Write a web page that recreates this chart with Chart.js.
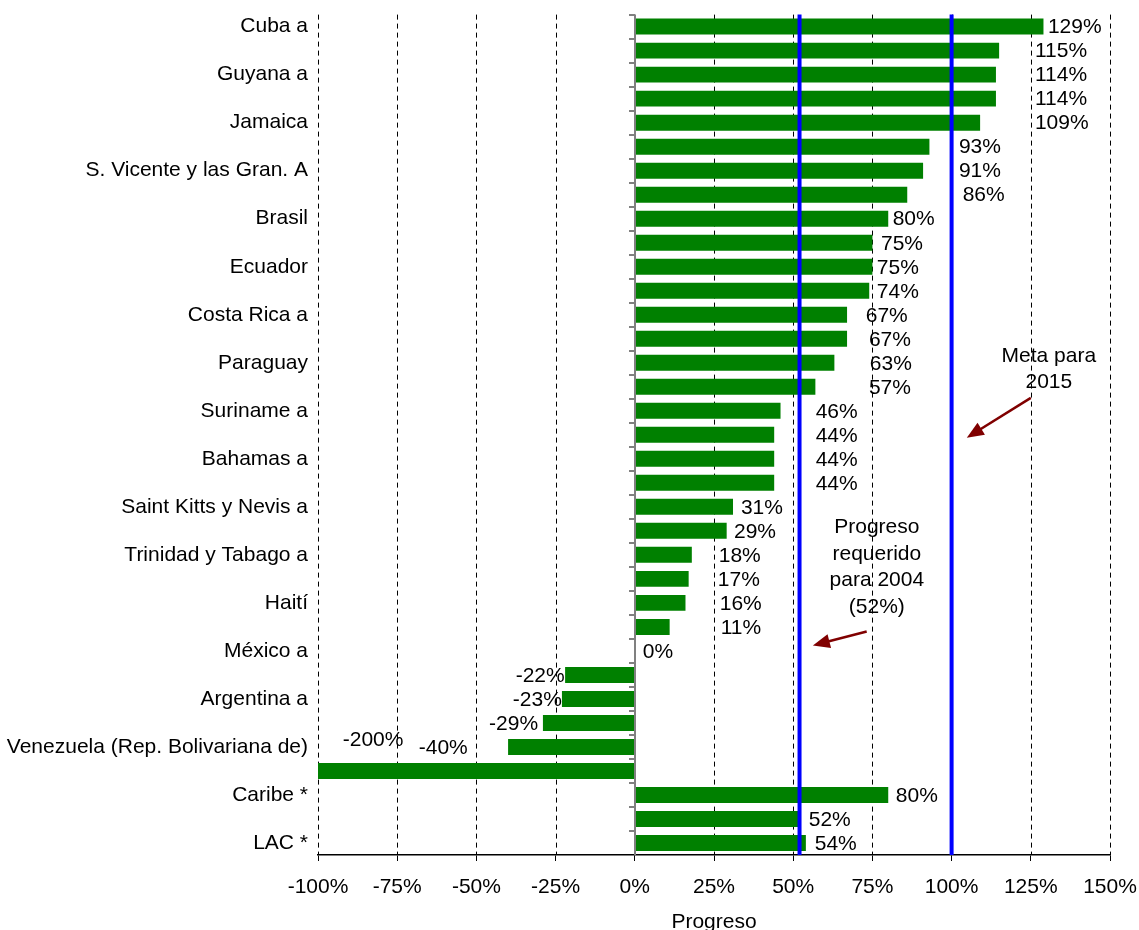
<!DOCTYPE html>
<html>
<head>
<meta charset="utf-8">
<script src="https://cdn.jsdelivr.net/npm/chart.js@4/dist/chart.umd.min.js"></script>
<style>
	body { margin: 0; background: #fff; }
	#wrap { width: 1139px; height: 930px; position: relative; }
</style>
</head>
<body>
<div id="wrap"><canvas id="chart"></canvas></div>
<script>
// categories (only every other row carries a name)
const paises = [
	'Cuba a', '', 'Guyana a', '', 'Jamaica', '', 'S. Vicente y las Gran. A', '',
	'Brasil', '', 'Ecuador', '', 'Costa Rica a', '', 'Paraguay', '',
	'Suriname a', '', 'Bahamas a', '', 'Saint Kitts y Nevis a', '', 'Trinidad y Tabago a', '',
	'Haití', '', 'México a', '', 'Argentina a', '', 'Venezuela (Rep. Bolivariana de)', '',
	'Caribe *', '', 'LAC *'
];

// progress, percent
const progreso = [
	129, 115, 114, 114, 109, 93, 91, 86,
	80, 75, 75, 74, 67, 67, 63, 57,
	46, 44, 44, 44, 31, 29, 18, 17,
	16, 11, 0, -22, -23, -29, -40, -200,
	80, 52, 54
];

// where each value label starts (percent on the x axis)
const etiquetaEn = [
	130.4, 126.3, 126.3, 126.3, 126.3, 102.3, 102.3, 103.5,
	81.4, 77.7, 76.4, 76.4, 72.9, 73.9, 74.2, 73.9,
	57.1, 57.1, 57.1, 57.1, 33.5, 31.3, 26.5, 26.2,
	26.8, 27.1, 2.5, -37.6, -38.5, -46, -68.2, -92.2,
	82.4, 54.9, 56.8
];

const ticksX = [-100, -75, -50, -25, 0, 25, 50, 75, 100, 125, 150];
const requerido2004 = 52;
const meta2015 = 100;

const FONT = 'Liberation Sans, Arial, sans-serif';
const FS = 21;

const fondo = {
	id: 'fondo',
	beforeDatasetsDraw(chart) {
		const ctx = chart.ctx;
		const x = chart.scales.x;
		const area = chart.chartArea;
		ctx.save();
		ctx.lineWidth = 1;
		ctx.strokeStyle = '#000';
		ctx.setLineDash([5, 4]);
		for(const v of ticksX)
		{
			if(v==0)
				continue;
			let px = Math.round(x.getPixelForValue(v)) + 0.5;
			ctx.beginPath();
			ctx.moveTo(px, area.top);
			ctx.lineTo(px, area.bottom);
			ctx.stroke();
		}
		ctx.restore();
	},
	afterDatasetsDraw(chart) {
		const ctx = chart.ctx;
		const x = chart.scales.x;
		const y = chart.scales.y;
		const area = chart.chartArea;
		ctx.save();

		// zero axis with category ticks
		let x0 = Math.round(x.getPixelForValue(0));
		ctx.strokeStyle = '#808080';
		ctx.lineWidth = 2;
		ctx.beginPath();
		ctx.moveTo(x0, area.top);
		ctx.lineTo(x0, area.bottom);
		ctx.stroke();
		for(let i = 0; i < progreso.length; i++)
		{
			let py = Math.round(y.getPixelForValue(i - 0.5));
			ctx.beginPath();
			ctx.moveTo(x0 - 6, py);
			ctx.lineTo(x0, py);
			ctx.stroke();
		}

		// blue reference lines
		ctx.strokeStyle = '#0000ff';
		ctx.lineWidth = 4;
		for(const v of [requerido2004, meta2015])
		{
			let px = x.getPixelForValue(v);
			ctx.beginPath();
			ctx.moveTo(px, area.top);
			ctx.lineTo(px, area.bottom);
			ctx.stroke();
		}

		// value labels
		ctx.fillStyle = '#000';
		ctx.font = FS + 'px ' + FONT;
		ctx.textAlign = 'left';
		ctx.textBaseline = 'middle';
		for(let i = 0; i < progreso.length; i++)
		{
			let py = y.getPixelForValue(i) + 1;
			if(progreso[i] < -100)
				py -= 32;
			ctx.fillText(progreso[i] + '%', x.getPixelForValue(etiquetaEn[i]), py);
		}

		// annotations
		ctx.textAlign = 'center';
		const texto = (lines, xv, row) => {
			let px = x.getPixelForValue(xv);
			let py = y.getPixelForValue(row);
			lines.forEach((l, k) => ctx.fillText(l, px, py + k * 26.5));
		};
		texto(['Meta para', '2015'], 130.7, 13.72);
		texto(['Progreso', 'requerido', 'para 2004', '(52%)'], 76.4, 20.86);

		const flecha = (xa, ya, xb, yb) => {
			let ax = x.getPixelForValue(xa), ay = y.getPixelForValue(ya);
			let bx = x.getPixelForValue(xb), by = y.getPixelForValue(yb);
			let ang = Math.atan2(by - ay, bx - ax);
			let len = 17, half = 7;
			ctx.strokeStyle = '#800000';
			ctx.fillStyle = '#800000';
			ctx.lineWidth = 2.5;
			ctx.beginPath();
			ctx.moveTo(ax, ay);
			ctx.lineTo(bx - Math.cos(ang) * len * 0.8, by - Math.sin(ang) * len * 0.8);
			ctx.stroke();
			ctx.beginPath();
			ctx.moveTo(bx, by);
			ctx.lineTo(bx - Math.cos(ang) * len - Math.sin(ang) * half, by - Math.sin(ang) * len + Math.cos(ang) * half);
			ctx.lineTo(bx - Math.cos(ang) * len + Math.sin(ang) * half, by - Math.sin(ang) * len - Math.cos(ang) * half);
			ctx.closePath();
			ctx.fill();
		};
		flecha(125, 15.46, 104.8, 17.12);
		flecha(73.2, 25.19, 56.2, 25.77);

		ctx.restore();
	}
};

new Chart(document.getElementById('chart'), {
	type: 'bar',
	data: {
		labels: paises,
		datasets: [{
			data: progreso,
			backgroundColor: '#008000',
			borderWidth: 0,
			barPercentage: 0.665,
			categoryPercentage: 1,
		}]
	},
	options: {
		indexAxis: 'y',
		responsive: true,
		maintainAspectRatio: false,
		animation: false,
		layout: { padding: { left: 0, right: 29, top: 5, bottom: 0 } },
		plugins: {
			legend: { display: false },
			tooltip: { enabled: false },
		},
		scales: {
			x: {
				min: -100,
				max: 150,
				afterBuildTicks: s => { s.ticks = ticksX.map(v => ({value: v})); },
				afterFit: s => { s.height = 75; s.paddingRight = 0; s.paddingLeft = 0; },
				grid: { drawOnChartArea: false, drawTicks: true, tickLength: 6, tickColor: '#000', tickWidth: 1 },
				border: { display: true, color: '#000', width: 1.5 },
				ticks: {
					color: '#000',
					font: { family: FONT, size: FS },
					padding: 14,
					maxRotation: 0,
					callback: v => v + '%',
				},
				title: {
					display: true,
					text: 'Progreso',
					color: '#000',
					font: { family: FONT, size: FS },
					padding: { top: 0, bottom: -5 },
				},
			},
			y: {
				afterFit: s => { s.width = 318; },
				grid: { display: false },
				border: { display: false },
				ticks: {
					color: '#000',
					font: { family: FONT, size: FS },
					padding: 2,
					autoSkip: false,
				},
			},
		},
	},
	plugins: [fondo],
});
</script>
</body>
</html>
